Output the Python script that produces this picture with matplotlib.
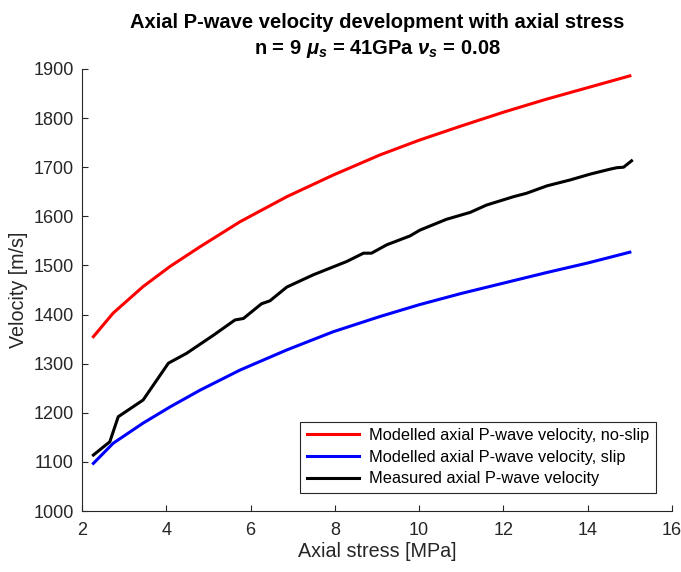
import matplotlib.pyplot as plt

plt.rcParams['font.family'] = ['Liberation Sans', 'DejaVu Sans']
plt.rcParams['mathtext.fontset'] = 'custom'
plt.rcParams['mathtext.rm'] = 'Liberation Sans:bold'
plt.rcParams['mathtext.it'] = 'Liberation Sans:italic:bold'
plt.rcParams['mathtext.bf'] = 'Liberation Sans:bold'

# modelled, no-slip
stress_noslip = [2.27, 2.74, 3.45, 4.09, 4.80, 5.75, 6.86, 7.96, 9.07, 10.0, 11.0, 12.0, 13.0, 14.0, 15.0]
vel_noslip = [1355, 1403, 1457, 1498, 1538, 1589, 1640, 1684, 1725, 1755, 1784, 1812, 1838, 1862, 1886]

# modelled, slip
stress_slip = [2.27, 2.74, 3.45, 4.09, 4.80, 5.75, 6.86, 7.96, 9.07, 10.0, 11.0, 12.0, 13.0, 14.0, 15.0]
vel_slip = [1097, 1138, 1179, 1212, 1246, 1287, 1328, 1365, 1396, 1420, 1443, 1464, 1485, 1505, 1527]

# measured
stress_meas = [2.27, 2.66, 2.86, 3.45, 4.05, 4.48, 5.12, 5.63, 5.83, 6.26, 6.46, 6.86, 7.49, 8.28,
               8.68, 8.87, 9.23, 9.78, 10.02, 10.65, 11.21, 11.60, 12.24, 12.55, 13.03, 13.58,
               14.06, 14.53, 14.69, 14.85, 15.04]
vel_meas = [1114, 1141, 1192, 1226, 1301, 1321, 1358, 1389, 1392, 1422, 1428, 1456, 1481, 1508,
            1525, 1525, 1542, 1560, 1572, 1594, 1608, 1623, 1640, 1647, 1662, 1674,
            1686, 1696, 1699, 1700, 1713]

fig = plt.figure(figsize=(6.81, 5.72), dpi=100)
ax = fig.add_axes([0.1204, 0.1066, 0.8664, 0.7728])

ax.plot(stress_noslip, vel_noslip, color='red', lw=2.2, label='Modelled axial P-wave velocity, no-slip')
ax.plot(stress_slip, vel_slip, color='blue', lw=2.2, label='Modelled axial P-wave velocity, slip')
ax.plot(stress_meas, vel_meas, color='black', lw=2.2, label='Measured axial P-wave velocity')

ax.set_xlim(2, 16)
ax.set_ylim(1000, 1900)
ax.set_xticks(range(2, 17, 2))
ax.set_yticks(range(1000, 1901, 100))

gray = '#262626'
for s in ['top', 'right']:
    ax.spines[s].set_visible(False)
for s in ['left', 'bottom']:
    ax.spines[s].set_color(gray)
    ax.spines[s].set_linewidth(0.8)
ax.tick_params(direction='in', length=4, width=0.8, color=gray, labelcolor=gray, labelsize=13)
ax.tick_params(axis='x', pad=8)
ax.tick_params(axis='y', pad=6)

ax.set_xlabel('Axial stress [MPa]', fontsize=14.2, color=gray, labelpad=2)
ax.set_ylabel('Velocity [m/s]', fontsize=14.2, color=gray, labelpad=4)
ax.set_title('Axial P-wave velocity development with axial stress\n'
             r'n = 9 $\mu_s$ = 41GPa $\nu_s$ = 0.08',
             fontsize=14.5, fontweight='bold', pad=11, linespacing=1.35)

leg = ax.legend(loc='lower right', bbox_to_anchor=(0.973, 0.041), borderaxespad=0,
                fontsize=11.8, fancybox=False, framealpha=1, edgecolor=gray,
                handlelength=3.2, handletextpad=0.6, labelspacing=0.4, borderpad=0.4)
leg.get_frame().set_linewidth(0.8)

fig.savefig('out.png', dpi=100)
